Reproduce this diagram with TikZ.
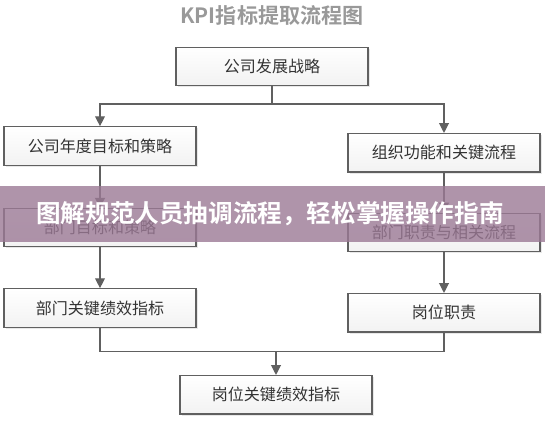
\documentclass[tikz,border=0pt]{standalone}
\usepackage{fontspec}
\setmainfont{Noto Sans CJK SC}[BoldFont={Noto Sans CJK SC Bold}]
\usetikzlibrary{arrows.meta, shadows}

\definecolor{bannerc}{RGB}{155,121,149}
\definecolor{edgec}{RGB}{96,96,96}
\definecolor{txtc}{RGB}{51,51,51}

\begin{document}
\begin{tikzpicture}[
    box/.style={draw=edgec, line width=0.9pt, minimum width=4.8cm, minimum height=0.96cm,
                top color=white, bottom color=gray!10, text=txtc, font=\fontsize{11.4}{13}\selectfont,
                drop shadow={opacity=0.18, shadow xshift=1.2pt, shadow yshift=-1.2pt}},
    line/.style={edgec, line width=0.8pt},
    arr/.style={line, -{Triangle[length=7pt, width=7pt]}},
    ttl/.style={font=\bfseries\fontsize{15}{18}\selectfont, text=black!40},
    banner/.style={font=\bfseries\fontsize{17.5}{20}\selectfont, text=white}
]
\useasboundingbox (0,0) rectangle (13.625,10.5);

% ---- title ----
\node[ttl] (title) at (6.8, 10.12) {KPI指标提取流程图};

% ---- top ----
\node[box] (strat) at (6.8, 8.84) {公司发展战略};
\coordinate (split) at (6.8, 7.9);

% ---- left column ----
\node[box] (corpgoal) at (2.5, 6.85) {公司年度目标和策略};
\node[box] (deptgoal) at (2.5, 4.81) {部门目标和策略};
\node[box] (deptkpi)  at (2.5, 2.8)  {部门关键绩效指标};

% ---- right column ----
\node[box] (orgproc)  at (11.1, 6.68) {组织功能和关键流程};
\node[box] (deptduty) at (11.1, 4.69) {部门职责与相关流程};
\node[box] (posduty)  at (11.1, 2.68) {岗位职责};

% ---- bottom ----
\coordinate (merge) at (6.9, 1.72);
\node[box] (poskpi) at (6.9, 0.63) {岗位关键绩效指标};

% ---- connectors ----
\draw[line] (strat.south) -- (split);
\draw[arr] (split) -| (corpgoal.north);
\draw[arr] (split) -| (orgproc.north);
\draw[arr] (corpgoal) -- (deptgoal);
\draw[arr] (deptgoal) -- (deptkpi);
\draw[arr] (orgproc) -- (deptduty);
\draw[arr] (deptduty) -- (posduty);
\draw[line] (deptkpi.south) |- (merge);
\draw[line] (posduty.south) |- (merge);
\draw[arr] (merge) -- (poskpi.north);

% ---- banner ----
\fill[bannerc, opacity=0.8] (0, 4.45) rectangle (13.625, 5.85);
\node[banner] (headline) at (6.75, 5.15) {图解规范人员抽调流程，轻松掌握操作指南};

\end{tikzpicture}
\end{document}
